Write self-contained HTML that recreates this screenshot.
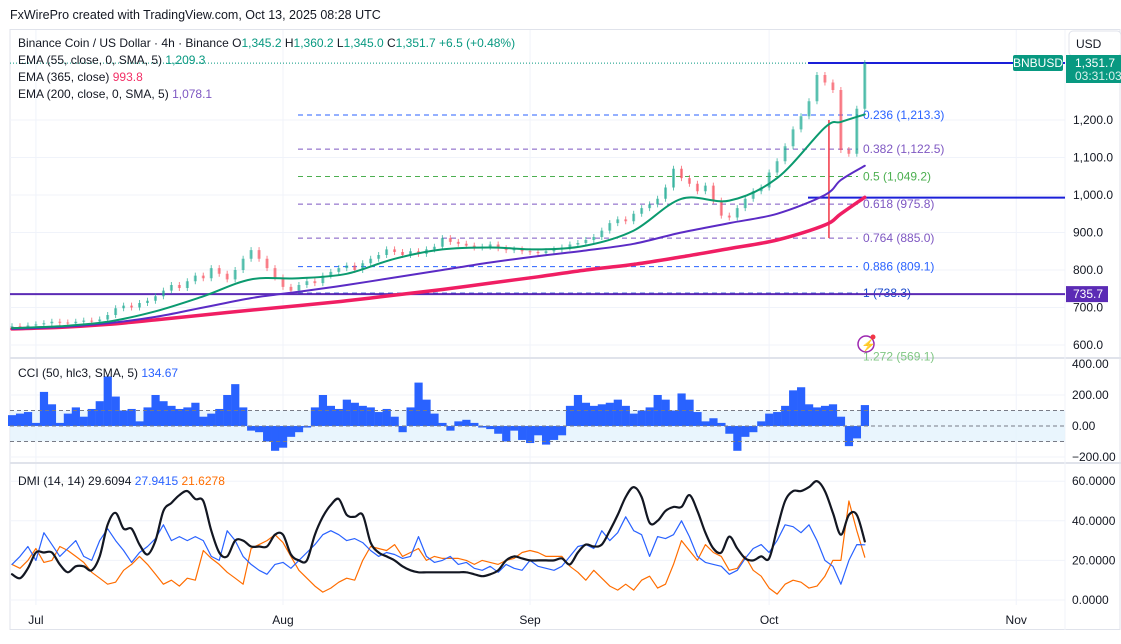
<!DOCTYPE html>
<html><head><meta charset="utf-8">
<style>
html,body{margin:0;padding:0;background:#fff;}
body{width:1121px;height:639px;overflow:hidden;font-family:"Liberation Sans",sans-serif;}
svg text{font-family:"Liberation Sans",sans-serif;}
</style></head>
<body>
<svg id="c" width="1121" height="639" xmlns="http://www.w3.org/2000/svg">
<rect x="0" y="0" width="1121" height="639" fill="#fff"/>
<text x="10" y="19" font-size="12.5" fill="#131722">FxWirePro created with TradingView.com, Oct 13, 2025 08:28 UTC</text>
<rect x="10" y="29.5" width="1110" height="600" fill="none" stroke="#e0e3eb"/>
<g id="grid"></g>
<g id="main"></g>
<g id="cci"></g>
<g id="dmi"></g>
<g id="axes"></g>
<g id="legend">
<text x="18" y="47" font-size="12" fill="#131722">Binance Coin / US Dollar · 4h · Binance <tspan fill="#131722">O</tspan><tspan fill="#089981">1,345.2</tspan> <tspan fill="#131722">H</tspan><tspan fill="#089981">1,360.2</tspan> <tspan fill="#131722">L</tspan><tspan fill="#089981">1,345.0</tspan> <tspan fill="#131722">C</tspan><tspan fill="#089981">1,351.7</tspan> <tspan fill="#089981">+6.5 (+0.48%)</tspan></text>
<text x="18" y="64" font-size="12" fill="#131722">EMA (55, close, 0, SMA, 5) <tspan fill="#089981">1,209.3</tspan></text>
<text x="18" y="81" font-size="12" fill="#131722">EMA (365, close) <tspan fill="#f23067">993.8</tspan></text>
<text x="18" y="98" font-size="12" fill="#131722">EMA (200, close, 0, SMA, 5) <tspan fill="#7e57c2">1,078.1</tspan></text>
<text x="18" y="377" font-size="12" fill="#131722">CCI (50, hlc3, SMA, 5) <tspan fill="#2962ff">134.67</tspan></text>
<text x="18" y="485" font-size="12" fill="#131722">DMI (14, 14) <tspan fill="#131722">29.6094</tspan> <tspan fill="#2962ff">27.9415</tspan> <tspan fill="#ff6d00">21.6278</tspan></text>
</g>
</svg>
<script>
// ---- data ----
const closes=[650,648,652,
655,658,662,660,658,662,665,663,668,680,698,705,700,712,718,730,745,760,752,770,785,778,805,790,775,800,830,853,830,805,780,
755,745,760,770,765,785,795,805,812,800,818,830,840,855,848,840,850,843,855,862,885,875,870,865,860,862,868,858,853,855,850,
848,845,850,855,860,868,872,880,888,905,925,935,930,950,965,975,990,1020,1070,1045,1030,1010,1025,985,945,940,965,990,1010,1020,
1060,1090,1130,1175,1210,1250,1320,1300,1280,1120,1110,1230,1351.7];
const spikeDay=[102];
const spikeLow=[885];
const emaDays=[0,6,12,18,24,30,36,42,48,54,60,66,72,78,84,90,96,102,104,107];
const ema55=[645,650,662,690,730,775,778,790,830,855,860,855,865,905,990,985,1045,1180,1195,1215];
const ema200=[643,648,658,675,700,725,742,760,780,800,820,837,852,870,900,925,950,1000,1040,1078];
const ema365=[643,647,655,667,680,693,705,718,733,748,765,782,800,815,835,857,880,920,950,994];
const fibLevels=[0.236,0.382,0.5,0.618,0.764,0.886,1,1.272];
const fibPrices=[1213.3,1122.5,1049.2,975.8,885.0,809.1,738.3,569.1];
const fibColors=["#2962ff","#7e57c2","#4caf50","#7e57c2","#7e57c2","#2962ff","#1848cc","#81c784"];
const priceTicks=[1200,1100,1000,900,800,700,600];
const cci=[70,80,90,20,220,140,20,80,120,60,110,160,320,190,100,110,30,120,200,160,130,110,120,150,60,80,110,200,270,120,-30,-40,-100,-160,-140,-70,-40,-10,120,200,130,110,170,150,130,120,90,110,60,-40,120,280,170,80,20,-30,30,40,20,-10,-20,-50,-100,-30,-90,-110,-60,-120,-90,-60,130,200,150,130,140,150,170,130,80,100,120,200,170,100,210,170,90,30,50,20,-50,-160,-70,-40,30,80,90,130,230,250,140,120,130,140,60,-130,-80,135];
const cciTicks=[400,200,0,-200];
const adx=[13,11,16,24,24,24,18,14,17,17,15,22,38,44,36,36,28,23,30,45,49,53,55,51,50,35,24,22,30,30,27,27,27,33,33,23,20,20,33,42,48,51,43,42,43,29,24,22,20,17,15,14,14,14,14,14,14,14,13,12,13,15,20,22,21,20,20,20,20,21,18,24,28,27,28,35,43,52,57,52,39,40,45,47,47,53,45,34,26,24,32,26,21,20,22,21,36,50,55,55,57,60,55,44,33,43,43,29.6];
const plusDI=[18,22,27,20,34,28,22,26,30,22,20,30,36,30,25,19,24,27,31,38,30,32,30,32,30,22,20,35,30,22,18,15,13,18,19,16,20,24,28,33,35,33,30,31,29,25,22,24,23,21,22,32,22,19,20,22,18,19,16,15,17,14,18,16,15,20,17,16,15,17,22,27,28,26,35,30,34,42,35,33,22,32,31,33,40,32,22,19,18,17,13,15,21,26,28,24,30,38,37,34,38,30,20,17,8,20,28,27.9];
const minusDI=[18,16,20,26,19,20,27,25,22,19,14,11,8,9,15,18,22,18,13,8,10,7,11,10,25,21,18,14,11,8,26,28,30,33,29,22,15,11,7,4,6,9,11,10,20,27,26,25,28,22,24,26,20,22,21,21,21,20,18,20,19,18,20,21,24,25,24,22,22,22,17,14,10,15,11,7,5,8,5,10,12,6,8,18,30,25,20,28,24,22,15,16,22,15,12,6,3,8,10,9,6,7,12,20,20,50,35,21.6];
const dmiTicks=[60,40,20,0];
const monthLabels=["Jul","Aug","Sep","Oct","Nov"];
const monthDays=[3,34,65,95,126];

// ---- scales ----
const NS="http://www.w3.org/2000/svg";
const X0=12, DX=7.97;
const xd=d=>X0+d*DX;
const yP=p=>120+(1200-p)*0.375;
const yC=v=>426-v*0.155;
const yD=v=>600-v*1.98;
function mk(tag,attrs,parent){const e=document.createElementNS(NS,tag);for(const k in attrs)e.setAttribute(k,attrs[k]);parent.appendChild(e);return e;}
const main=document.getElementById('main'),cciG=document.getElementById('cci'),dmiG=document.getElementById('dmi'),grid=document.getElementById('grid'),axes=document.getElementById('axes');

// grid
monthDays.forEach(d=>{const l=mk('line',{x1:xd(d),x2:xd(d),y1:30,y2:605,stroke:'#f0f3fa'},grid);

});
priceTicks.forEach(p=>{const l=mk('line',{x1:10,x2:1065,y1:yP(p),y2:yP(p),stroke:'#f0f3fa'},grid);

});
[200,-200].forEach(v=>{const l=mk('line',{x1:10,x2:1065,y1:yC(v),y2:yC(v),stroke:'#f0f3fa'},grid);

});
dmiTicks.forEach(v=>{const l=mk('line',{x1:10,x2:1065,y1:yD(v),y2:yD(v),stroke:'#f0f3fa'},grid);

});
[358,463].forEach(y=>{const l=mk('line',{x1:10,x2:1121,y1:y,y2:y,stroke:'#e0e3eb','stroke-width':2},grid);

});
const vax=mk('line',{x1:1065,x2:1065,y1:30,y2:630,stroke:'#f0f3fa'},grid);



// fib
fibPrices.forEach((p,i)=>{const y=yP(p);
 if(y<356){const l=mk('line',{x1:298,x2:858,y1:y,y2:y,stroke:fibColors[i],'stroke-dasharray':'5,4','stroke-width':1},main);
 
 }
 const t=mk('text',{x:863,y:y+4,'font-size':12,fill:fibColors[i]},main);t.textContent=fibLevels[i]+' ('+p.toLocaleString('en-US',{minimumFractionDigits:1})+')';
 
 });
// horizontal lines
const h735=mk('line',{x1:10,x2:1065,y1:yP(735.7),y2:yP(735.7),stroke:'#5b2bb5','stroke-width':2},main);


const h1000=mk('line',{x1:808,x2:1065,y1:yP(993),y2:yP(993),stroke:'#1a1fd8','stroke-width':2},main);


const hTop=mk('line',{x1:808,x2:1065,y1:yP(1352),y2:yP(1352),stroke:'#1a1fd8','stroke-width':2},main);


const dot=mk('line',{x1:10,x2:808,y1:yP(1351.7),y2:yP(1351.7),stroke:'#089981','stroke-dasharray':'1,2','stroke-width':1},main);



// candles
closes.forEach((c,i)=>{const o=i?closes[i-1]:c;const up=c>=o;const col=up?'#22ab94':'#f7525f';
 const y1=yP(Math.max(o,c)),y2=yP(Math.min(o,c));
 const wl=mk('line',{x1:xd(i),x2:xd(i),y1:y1-3,y2:y2+3,stroke:col,'stroke-width':1,opacity:0.7},main);
 
 
 const r=mk('rect',{x:xd(i)-1.5,y:y1,width:3,height:Math.max(1,y2-y1),fill:col,opacity:0.6},main);
 
 });
spikeDay.forEach((d,i)=>{const l=mk('line',{x1:xd(d)+4,x2:xd(d)+4,y1:yP(1200),y2:yP(spikeLow[i]),stroke:'#f23645','stroke-width':1.5},main);
 
 });

// smooth lines
function smoothPath(pts){let d='M'+pts[0][0].toFixed(1)+','+pts[0][1].toFixed(1);
 for(let i=0;i<pts.length-1;i++){const p0=pts[i-1]||pts[i],p1=pts[i],p2=pts[i+1],p3=pts[i+2]||p2;
  const c1x=p1[0]+(p2[0]-p0[0])/6,c1y=p1[1]+(p2[1]-p0[1])/6,c2x=p2[0]-(p3[0]-p1[0])/6,c2y=p2[1]-(p3[1]-p1[1])/6;
  d+=' C'+c1x.toFixed(1)+','+c1y.toFixed(1)+' '+c2x.toFixed(1)+','+c2y.toFixed(1)+' '+p2[0].toFixed(1)+','+p2[1].toFixed(1);}
 return d;}
function line(days,vals,ys,col,w,g,name,smooth){const pts=vals.map((v,i)=>[xd(days[i]),ys(v)]);
 const p=mk('path',{d:smooth?smoothPath(pts):'M'+pts.map(q=>q[0].toFixed(1)+','+q[1].toFixed(1)).join(' L'),fill:'none',stroke:col,'stroke-width':w,'stroke-linejoin':'round','stroke-linecap':'round'},g);
 
 }
line(emaDays,ema365,yP,'#f01e63',3.5,main,'ema365-line',true);
line(emaDays,ema200,yP,'#5b2bc5',2,main,'ema200-line',true);
line(emaDays,ema55,yP,'#0b9a6f',2,main,'ema55-line',true);

// lightning icon
const ic=mk('circle',{cx:866,cy:344,r:8,fill:'#fff',stroke:'#9c27b0','stroke-width':1.5},main);


const bolt=mk('text',{x:861,y:349,'font-size':12,fill:'#9c27b0'},main);bolt.textContent='⚡';


const rd=mk('circle',{cx:873,cy:337,r:2.5,fill:'#f23645'},main);



// CCI
const band=mk('rect',{x:10,y:yC(100),width:1055,height:yC(-100)-yC(100),fill:'#e3f2fd',opacity:0.8},cciG);


cci.forEach((v,i)=>{const y=yC(Math.max(v,0)),h=Math.abs(yC(v)-yC(0));
 const r=mk('rect',{x:xd(i)-4,y:y,width:8.2,height:Math.max(0.5,h),fill:'#2962ff'},cciG);
 
 });
[100,0,-100].forEach(v=>{const l=mk('line',{x1:10,x2:1065,y1:yC(v),y2:yC(v),stroke:'#787b86','stroke-dasharray':'4,3','stroke-width':1},cciG);
 
 });

// DMI
const dd=closes.map((_,i)=>i);
line(dd,minusDI,yD,'#ff6d00',1.2,dmiG,'minus-di-line',false);
line(dd,plusDI,yD,'#2962ff',1.2,dmiG,'plus-di-line',false);
line(dd,adx,yD,'#131722',2.2,dmiG,'adx-line',true);

// axes labels
function txt(x,y,s,fill,name,anchor,weight){const t=mk('text',{x:x,y:y,'font-size':12,fill:fill,'text-anchor':anchor||'start','font-weight':weight||'normal'},axes);t.textContent=s;
 
 return t;}
priceTicks.forEach(p=>txt(1073,yP(p)+4,p.toLocaleString('en-US',{minimumFractionDigits:1}),'#131722','price-tick'));
cciTicks.forEach(v=>txt(1072,yC(v)+4,v.toFixed(2).replace('-','−'),'#131722','cci-tick'));
dmiTicks.forEach(v=>txt(1072,yD(v)+4,v.toFixed(4),'#131722','dmi-tick'));
monthLabels.forEach((m,i)=>txt(xd(monthDays[i]),624,m,'#131722','month-label','middle'));

const usd=mk('rect',{x:1069,y:31,width:52,height:25,rx:4,fill:'#fff',stroke:'#e0e3eb'},axes);


txt(1076,48,'USD','#131722','currency-label');
const sym=mk('rect',{x:1013,y:55,width:50,height:16,rx:2,fill:'#089981'},axes);


txt(1038,67,'BNBUSD','#fff','symbol-tag-text','middle');
const pb=mk('rect',{x:1066,y:55,width:55,height:28,fill:'#089981'},axes);


txt(1075,67,'1,351.7','#fff','last-price-text');
txt(1075,80,'03:31:03','#d9f2ec','countdown-text');
const pp=mk('rect',{x:1066,y:yP(735.7)-8,width:42,height:16,fill:'#5b2bb5'},axes);


txt(1073,yP(735.7)+4,'735.7','#fff','support-price-text');
</script>
</body></html>
